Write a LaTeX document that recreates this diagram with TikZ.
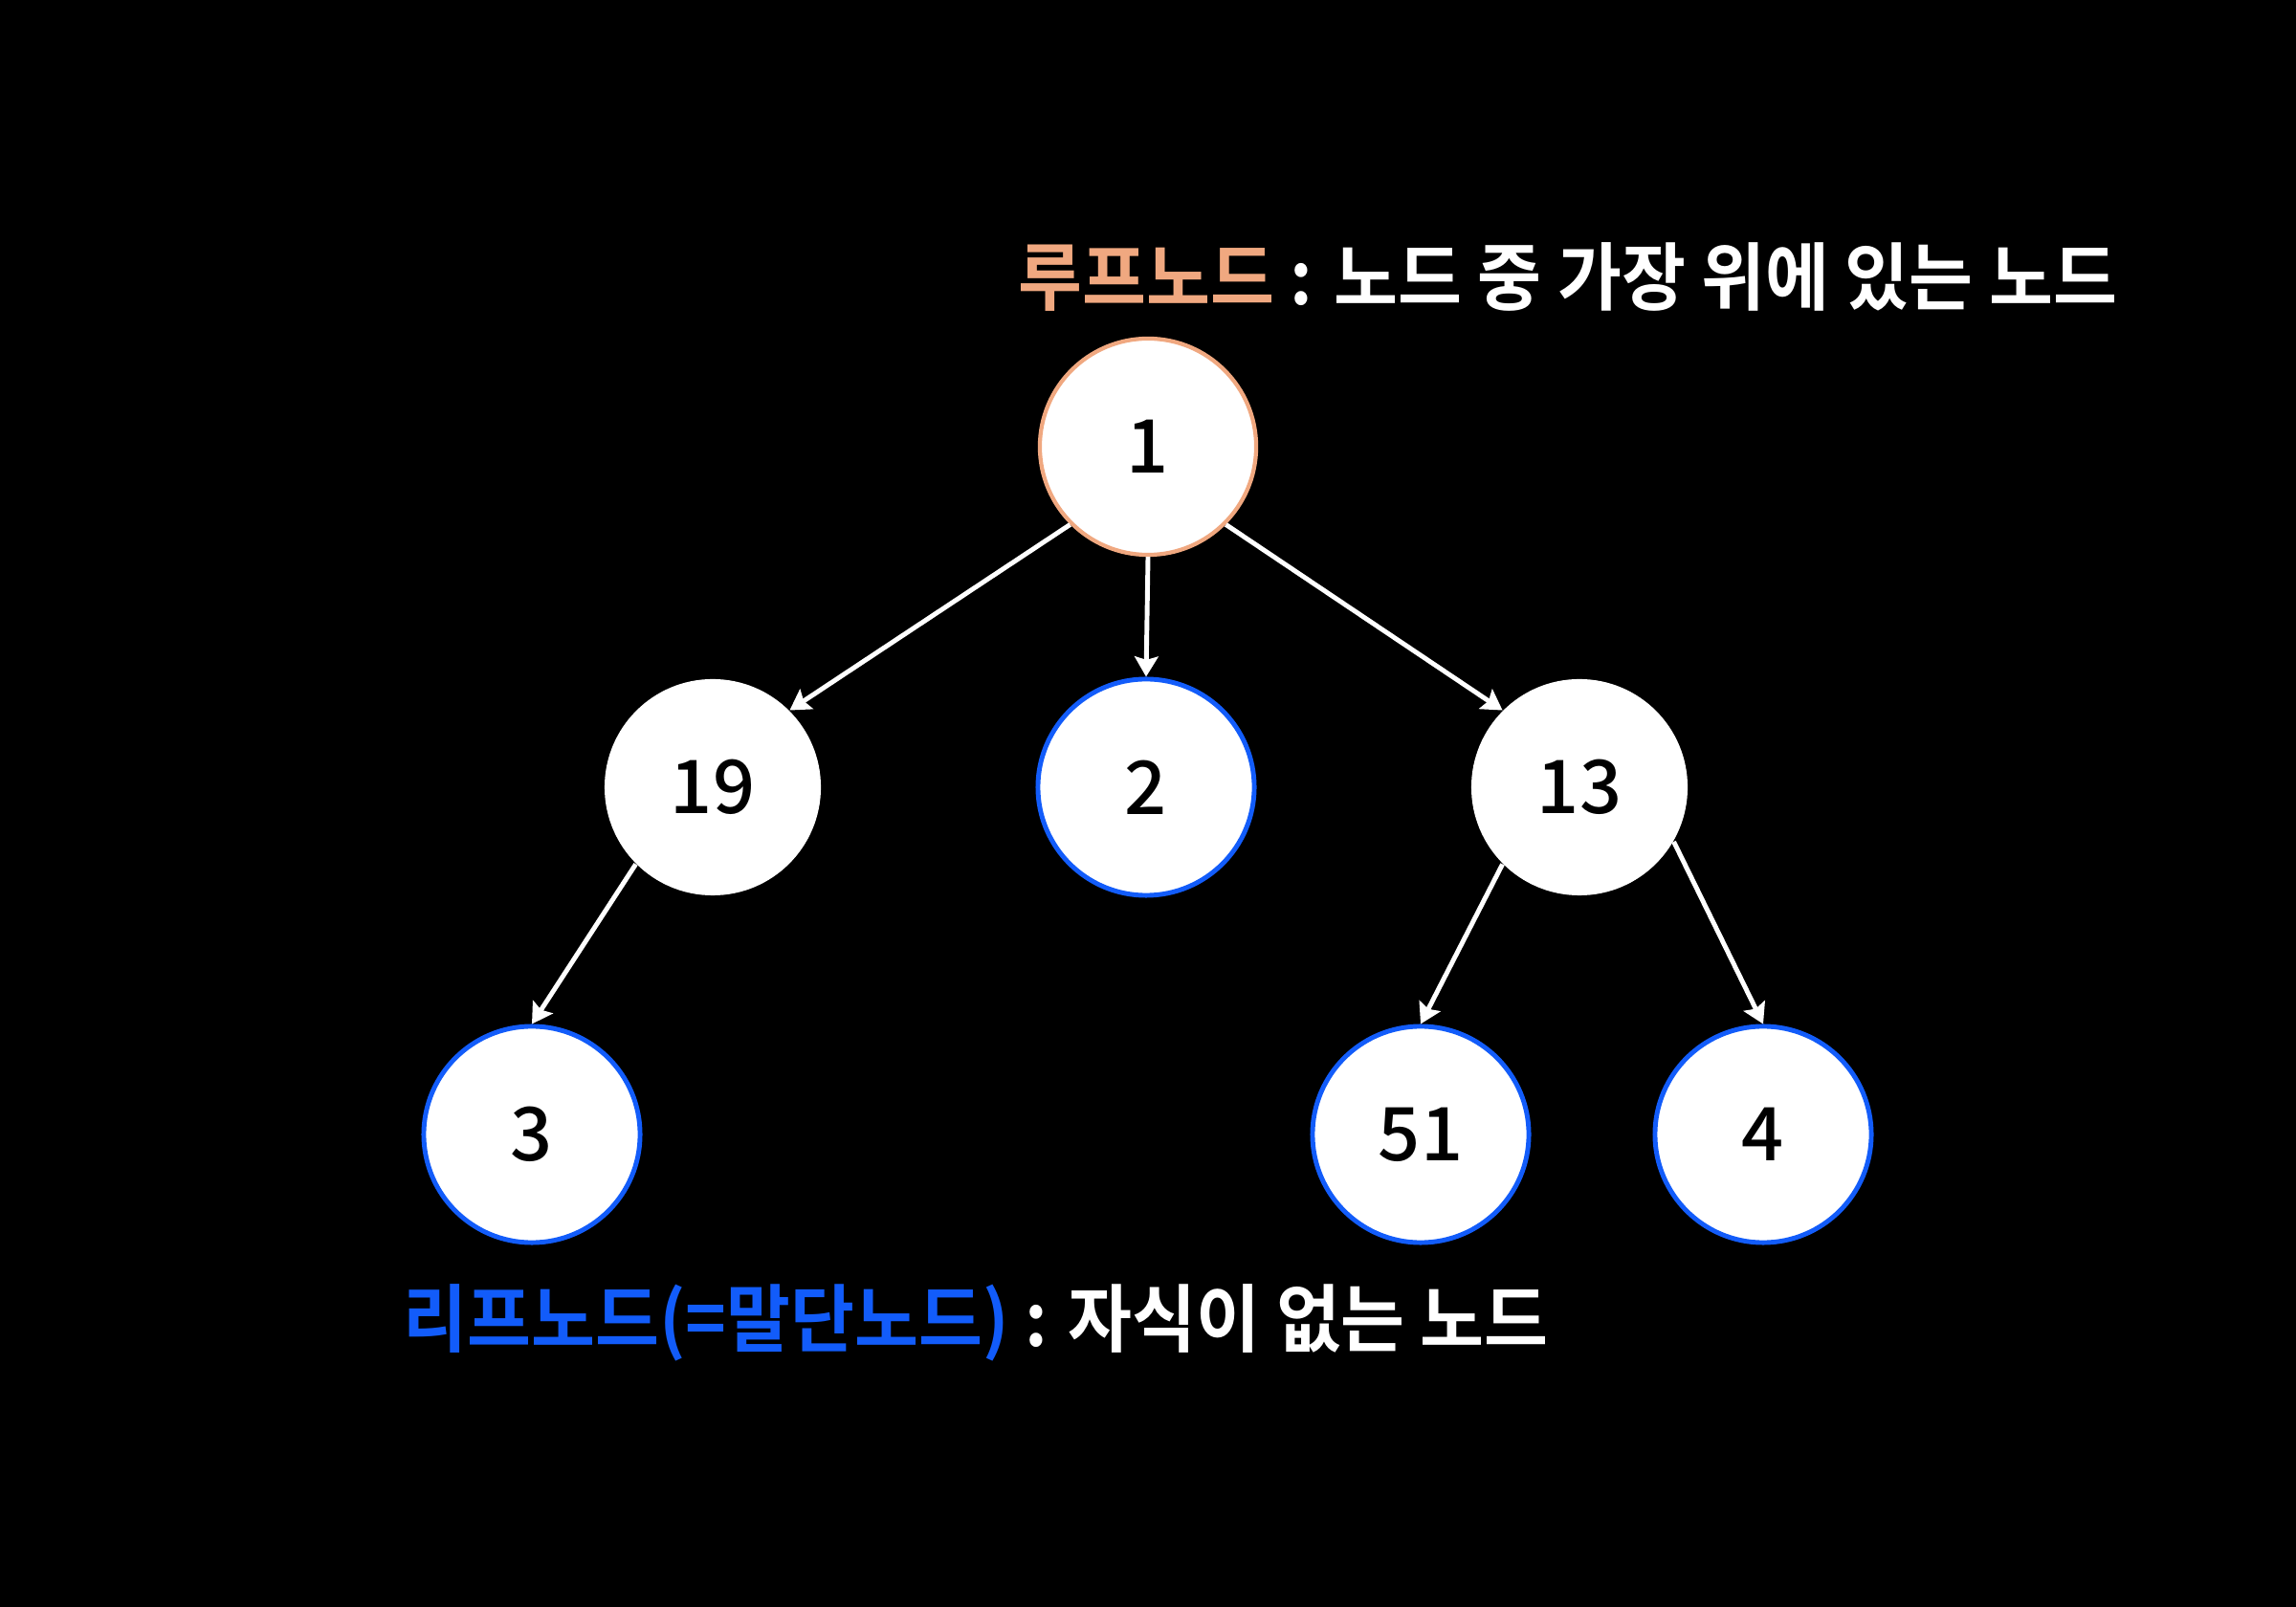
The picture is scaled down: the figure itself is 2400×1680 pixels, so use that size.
\documentclass[tikz,border=0pt]{standalone}
\usepackage{fontspec}
\usepackage{tikz}
\usetikzlibrary{positioning,arrows.meta}
\usepackage{xcolor}
\newfontfamily\kobold{Noto Sans CJK KR Bold}[FakeStretch=0.94]
\newfontfamily\konum{Noto Sans CJK KR Medium}
\definecolor{rootorange}{RGB}{240,168,128}
\definecolor{leafblue}{RGB}{18,92,250}

\begin{document}
\begin{tikzpicture}[x=0.01cm, y=-0.01cm,
    vertex/.style={circle, fill=white, minimum size=2.26cm, inner sep=0pt,
      text=black, font=\konum\fontsize{22}{26}\selectfont},
    rootv/.style={vertex, draw=rootorange, line width=1.2pt},
    leafv/.style={vertex, draw=leafblue, line width=1.4pt},
    link/.style={white, line width=1.4pt, -{Stealth[length=6pt, width=7pt, inset=1pt]}},
    caption/.style={anchor=west, inner sep=0pt, text=white, font=\kobold\fontsize{22}{26}\selectfont}]
    % Background
    \fill[black] (0,0) rectangle (2400,1680);

    % Define the vertices
    % Root
    \node[rootv] (n1) at (1200,467) {1};

    % Second level (19, 2, 13)
    \node[vertex] (n19) at (745,823) {19};
    \node[leafv] (n2) at (1198,823) {2};
    \node[vertex] (n13) at (1651,823) {13};

    % Third level (3, 51, 4)
    \node[leafv] (n3) at (556,1186) {3};
    \node[leafv] (n51) at (1485,1186) {51};
    \node[leafv] (n4) at (1843,1186) {4};

    % Draw the Edges
    \draw[link] (n1.225) -- (n19.45);
    \draw[link] (n1.south) -- (n2.north);
    \draw[link] (n1.-45) -- (n13.135);
    \draw[link] (n19.225) -- (n3.north);
    \draw[link] (n13.225) -- (n51.north);
    \draw[link] (n13.-30) -- (n4.north);

    % Captions
    \node[caption] (roottext) at (1064,290) {\textcolor{rootorange}{루프노드} : 노드 중 가장 위에 있는 노드};
    \node[caption] (leaftext) at (421,1383) {\textcolor{leafblue}{리프노드(=말단노드)} : 자식이 없는 노드};
\end{tikzpicture}
\end{document}
